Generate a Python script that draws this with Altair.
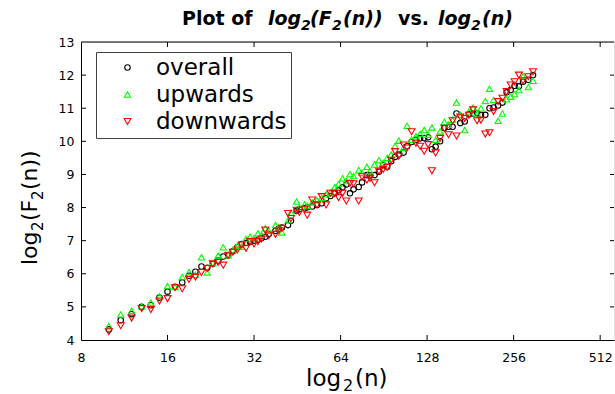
import altair as alt
import pandas as pd

# ---- data ----
n_values = [
    10, 11, 12, 13, 14, 15, 16, 17, 18, 19,
    20, 21, 22, 23, 24, 25, 26, 27, 28, 29,
    30, 31, 32, 33, 34, 35, 36, 38, 39, 40,
    42, 43, 45, 46, 48, 49, 51, 53, 55, 57,
    59, 61, 63, 65, 67, 69, 71, 74, 76, 79,
    81, 84, 87, 90, 93, 96, 99, 102, 106, 109,
    113, 117, 121, 125, 129, 133, 137, 142, 147, 152,
    157, 162, 167, 173, 179, 185, 191, 197, 204, 211,
    218, 226, 234, 242, 250, 258, 267, 276, 288, 299,
]
overall = [
    4.32, 4.60, 4.78, 5.00, 5.05, 5.28, 5.46, 5.61, 5.74, 5.94,
    6.06, 6.22, 6.18, 6.30, 6.40, 6.52, 6.55, 6.68, 6.80, 6.90,
    6.93, 6.97, 7.00, 7.03, 7.08, 7.12, 7.20, 7.30, 7.36, 7.40,
    7.47, 7.60, 7.90, 7.95, 7.98, 8.01, 8.03, 8.08, 8.13, 8.28,
    8.35, 8.43, 8.52, 8.61, 8.70, 8.43, 8.55, 8.62, 8.76, 8.98,
    8.97, 8.98, 9.08, 9.28, 9.23, 9.40, 9.53, 9.60, 9.66, 9.85,
    9.98, 10.05, 10.09, 10.10, 10.12, 9.76, 9.84, 10.00, 10.40, 10.44,
    10.44, 10.84, 10.55, 10.60, 10.82, 10.84, 10.85, 10.80, 10.80, 11.00,
    11.02, 11.08, 11.17, 11.48, 11.55, 11.68, 11.66, 11.80, 11.86, 12.00,
]
upwards = [
    4.42, 4.77, 4.88, 5.02, 5.13, 5.32, 5.63, 5.60, 5.90, 6.05,
    5.97, 6.50, 6.04, 6.32, 6.55, 6.80, 6.56, 6.72, 6.85, 6.82,
    7.05, 7.12, 7.08, 7.22, 7.18, 7.37, 7.30, 7.47, 7.40, 7.25,
    7.62, 7.85, 8.18, 8.00, 8.10, 8.05, 8.15, 8.22, 8.30, 8.40,
    8.45, 8.61, 8.71, 8.88, 8.80, 9.01, 8.95, 9.13, 9.05, 9.23,
    9.10, 9.30, 9.43, 9.35, 9.50, 9.60, 9.86, 10.02, 9.80, 10.47,
    10.05, 10.15, 10.22, 10.34, 10.20, 10.42, 10.05, 10.30, 10.59, 10.50,
    10.65, 11.17, 10.80, 10.34, 10.90, 11.02, 10.84, 11.00, 11.22, 11.59,
    11.25, 10.62, 10.84, 11.27, 11.35, 11.43, 11.55, 11.97, 11.64, 11.83,
]
downwards = [
    4.25, 4.43, 4.66, 4.95, 4.92, 5.18, 5.25, 5.58, 5.55, 5.83,
    5.90, 6.04, 6.16, 6.30, 6.34, 6.26, 6.56, 6.65, 6.72, 6.87,
    6.77, 6.97, 6.90, 6.97, 7.05, 7.32, 7.15, 7.19, 7.30, 7.37,
    7.82, 7.67, 7.92, 7.85, 7.95, 7.77, 8.23, 8.08, 8.33, 8.08,
    8.43, 8.43, 8.30, 8.43, 8.20, 8.73, 8.72, 8.20, 8.93, 8.83,
    8.88, 8.75, 9.10, 9.15, 9.21, 9.43, 9.69, 9.55, 9.89, 9.80,
    10.29, 9.94, 9.85, 9.70, 9.90, 9.11, 9.65, 10.09, 10.39, 10.20,
    10.62, 10.16, 10.73, 10.69, 10.79, 10.95, 10.62, 10.64, 10.22, 10.26,
    10.90, 11.20, 11.30, 11.50, 11.70, 11.80, 12.00, 11.83, 11.95, 12.10,
]
series_names = ["overall", "upwards", "downwards"]
series_colors = ["black", "#00ff00", "#ff0000"]
series_shapes = ["circle", "triangle-up", "triangle-down"]
series_sizes = [30, 48, 48]

x_tick_values = [16, 32, 64, 128, 256, 512]
x_label_values = [8, 16, 32, 64, 128, 256, 512]
y_tick_values = [5, 6, 7, 8, 9, 10, 11, 12]
y_label_values = [4, 5, 6, 7, 8, 9, 10, 11, 12, 13]

assert len(n_values) == len(overall) == len(upwards) == len(downwards)

rows = []
for name, vals in zip(series_names, [overall, upwards, downwards]):
    for n, v in zip(n_values, vals):
        rows.append({"series": name, "n": n, "value": v})
df = pd.DataFrame(rows)

W, H = 533, 298
FONT = "DejaVu Sans"

xscale = alt.Scale(type="log", base=2, domain=[8, 572], nice=False)
yscale = alt.Scale(domain=[4, 13], nice=False, zero=False)

x_axis = alt.Axis(
    values=x_label_values, format="d", ticks=False, grid=False,
    domainColor="black", labelFont=FONT, labelFontSize=12.5, labelColor="black",
    labelPadding=11, labelFlush=False, title=None)
y_axis = alt.Axis(
    values=y_label_values, ticks=False, grid=False, domainColor="black",
    labelFont=FONT, labelFontSize=12.5, labelColor="black", labelPadding=7,
    title=None)

legend = alt.Legend(
    title=None, orient="none", legendX=15, legendY=10,
    fillColor="white", strokeColor="#404040", padding=4, rowPadding=3,
    labelFont=FONT, labelFontSize=23, labelColor="black",
    symbolOffset=16, labelOffset=17, symbolStrokeWidth=1.1,
)

points = alt.Chart(df).mark_point(filled=False, strokeWidth=1.1, opacity=1).encode(
    x=alt.X("n:Q", scale=xscale, axis=x_axis),
    y=alt.Y("value:Q", scale=yscale, axis=y_axis),
    color=alt.Color("series:N", scale=alt.Scale(domain=series_names, range=series_colors), legend=legend),
    shape=alt.Shape("series:N", scale=alt.Scale(domain=series_names, range=series_shapes), legend=legend),
    size=alt.Size("series:N", scale=alt.Scale(domain=series_names, range=series_sizes), legend=legend),
)

xt = pd.DataFrame({"t": x_tick_values})
yt = pd.DataFrame({"t": y_tick_values})

bottom_ticks = alt.Chart(xt).mark_rule(color="black").encode(
    x=alt.X("t:Q", scale=xscale, axis=x_axis), y=alt.value(H), y2=alt.value(H - 5))
top_ticks = alt.Chart(xt).mark_rule(color="black").encode(
    x=alt.X("t:Q", scale=xscale, axis=x_axis), y=alt.value(0), y2=alt.value(5))
left_ticks = alt.Chart(yt).mark_rule(color="black").encode(
    y=alt.Y("t:Q", scale=yscale, axis=y_axis), x=alt.value(0), x2=alt.value(5))
right_ticks = alt.Chart(yt).mark_rule(color="black").encode(
    y=alt.Y("t:Q", scale=yscale, axis=y_axis), x=alt.value(W), x2=alt.value(W - 4))
one = pd.DataFrame({"k": [0]})
top_line = alt.Chart(one).mark_rule(color="black").encode(
    x=alt.value(0), x2=alt.value(W), y=alt.value(0))


def txt(text, x, y, size, weight="normal", style="normal", angle=0):
    kw = dict(text=text, align="left", baseline="alphabetic", font=FONT,
              fontSize=size, fontWeight=weight, fontStyle=style, color="black")
    if angle:
        kw["angle"] = angle
    return alt.Chart(one).mark_text(**kw).encode(x=alt.value(x), y=alt.value(y))


TY, TS = -17, -12.5
text_layers = [
    # title
    txt("Plot of", 101, TY, 19, "bold"),
    txt("log", 187, TY, 19, "bold", "italic"),
    txt("2", 220, TS, 14, "bold", "italic"),
    txt("(F", 229, TY, 19, "bold", "italic"),
    txt("2", 251, TS, 14, "bold", "italic"),
    txt("(n))", 262, TY, 19, "bold", "italic"),
    txt("vs.", 317, TY, 19, "bold"),
    txt("log", 357, TY, 19, "bold", "italic"),
    txt("2", 390, TS, 14, "bold", "italic"),
    txt("(n)", 401, TY, 19, "bold", "italic"),
    # x axis title
    txt("log", 225, 344, 23),
    txt("2", 262, 349, 16),
    txt("(n)", 274, 344, 23),
    # y axis title (rotated, reading upwards)
    txt("log", -44, 223, 22, angle=270),
    txt("2", -38, 189, 15, angle=270),
    txt("(F", -44, 179, 22, angle=270),
    txt("2", -38, 158, 15, angle=270),
    txt("(n))", -44, 148, 22, angle=270),
]

chart = alt.layer(
    points, top_line, bottom_ticks, top_ticks, left_ticks, right_ticks, *text_layers
).properties(
    width=W, height=H, autosize="none",
    padding={"left": 81, "top": 42, "right": 1, "bottom": 54},
).configure_view(stroke=None).configure(font=FONT, background="white")

chart.save("out.html", embed_options={"renderer": "svg", "actions": False})
